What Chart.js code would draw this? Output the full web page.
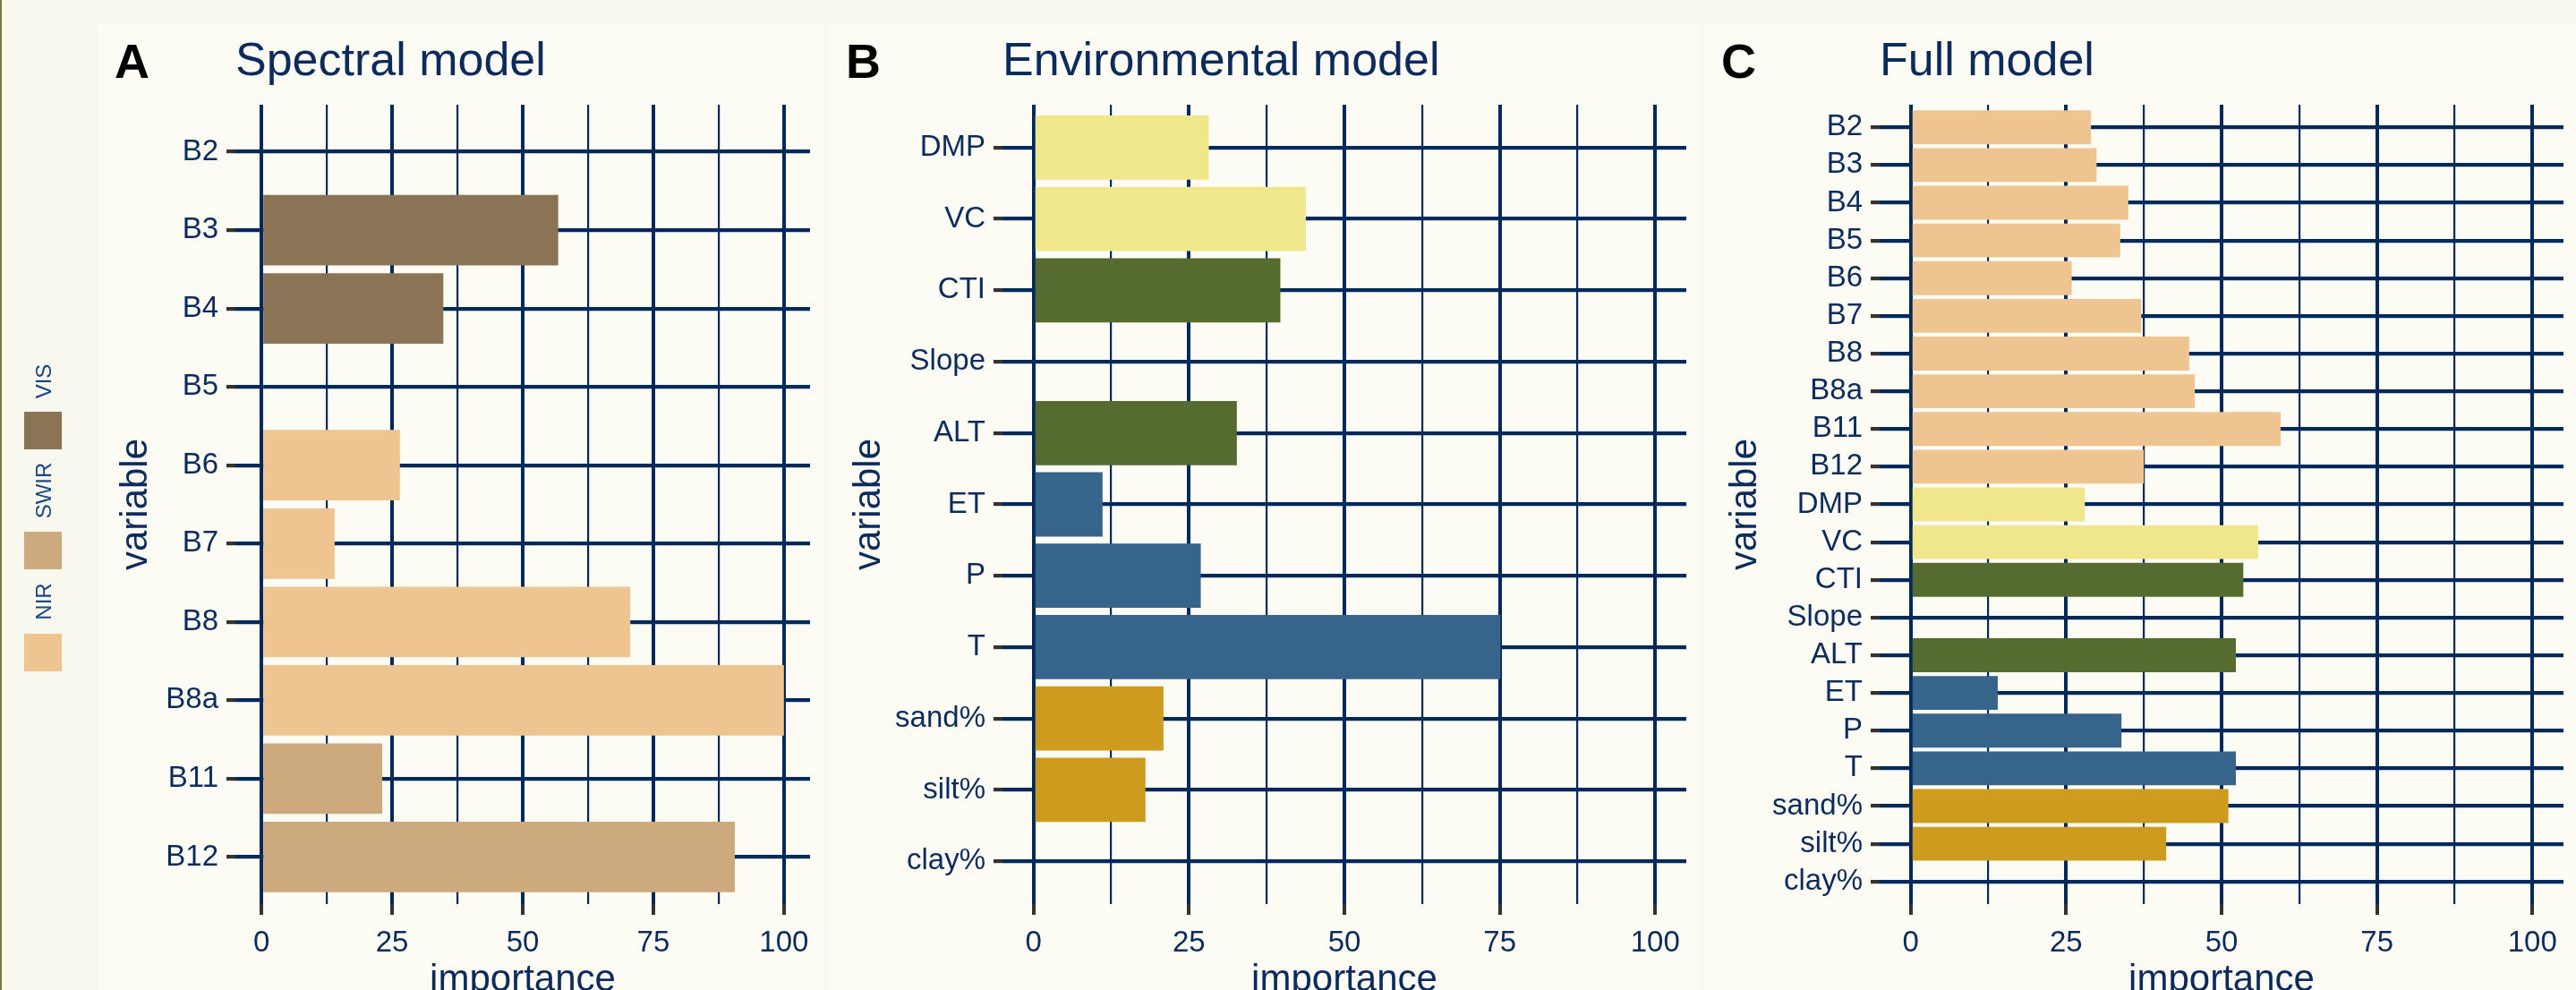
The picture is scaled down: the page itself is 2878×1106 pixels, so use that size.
<!DOCTYPE html>
<html>
<head>
<meta charset="utf-8">
<script src="https://cdn.jsdelivr.net/npm/chart.js@4.4.1/dist/chart.umd.min.js"></script>
<style>
  html, body { margin: 0; padding: 0; overflow: hidden; background: #F8F8EF; }
  body { width: 2878px; height: 1106px; position: relative; }
  .panel { position: absolute; top: 26px; height: 1080px; background: #FCFCF5; }
  canvas { position: absolute; top: 0; }
</style>
</head>
<body>
<div style="position:absolute;left:0;top:0;width:2px;height:1106px;background:#7A7A3C"></div>
<div class="panel" style="left:110px;width:810px"></div>
<div class="panel" style="left:925px;width:975px"></div>
<div class="panel" style="left:1905px;width:973px"></div>
<canvas id="chartA" width="922" height="1140" style="left:0px"></canvas>
<canvas id="chartB" width="978" height="1140" style="left:922px"></canvas>
<canvas id="chartC" width="978" height="1140" style="left:1900px"></canvas>
<script>
const FONT = "'Liberation Sans', Arial, sans-serif";
const navy = "#0A2B5C";
const gridNavy = "#00295B";
const tickGrey = "#333333";

// spectral model
const spectral_vars = ["B2", "B3", "B4", "B5", "B6", "B7", "B8", "B8a", "B11", "B12"];
const spectral_imp = [0, 56.8, 34.8, 0.3, 26.5, 14.0, 70.6, 100, 23.1, 90.6];
const spectral_band = ["VIS", "VIS", "VIS", "NIR", "NIR", "NIR", "NIR", "NIR", "SWIR", "SWIR"];

// environmental model
const env_vars = ["DMP", "VC", "CTI", "Slope", "ALT", "ET", "P", "T", "sand%", "silt%", "clay%"];
const env_imp = [28.2, 43.8, 39.7, 0, 32.7, 11.1, 26.9, 75.1, 20.9, 18.0, 0];
const env_group = ["veg", "veg", "topo", "topo", "topo", "clim", "clim", "clim", "soil", "soil", "soil"];

// full model
const full_vars = spectral_vars.concat(env_vars);
const full_imp = [29.0, 29.9, 35.0, 33.7, 25.9, 37.1, 44.8, 45.7, 59.5, 37.5,
                  28.0, 55.9, 53.5, 0, 52.3, 14.0, 33.9, 52.3, 51.1, 41.1, 0];
const full_group = spectral_vars.map(() => "NIR").concat(env_group);

const x_ticks = [0, 12.5, 25, 37.5, 50, 62.5, 75, 87.5, 100];
const legend_bands = ["VIS", "SWIR", "NIR"];

const groupColors = {
  VIS: "#8B7355",
  SWIR: "#CDAA7D",
  NIR: "#EEC591",
  veg: "#F0E68C",
  topo: "#556B2F",
  clim: "#36648B",
  soil: "#CD9B1D",
};

// panel letter + the rotated band legend of panel A
const panelTag = {
  id: "panelTag",
  afterDraw(chart, args, o) {
    const ctx = chart.ctx;
    ctx.save();
    ctx.fillStyle = "#000";
    ctx.font = "bold 54px " + FONT;
    ctx.textBaseline = "alphabetic";
    ctx.textAlign = "left";
    ctx.fillText(o.tag, o.x, 87);
    if (o.legend) {
      const boxTop = [460, 594, 708];
      const textMid = [426, 548, 672];
      o.legend.forEach((band, i) => {
        ctx.fillStyle = groupColors[band];
        ctx.fillRect(27, boxTop[i], 42, 42);
        ctx.save();
        ctx.translate(50, textMid[i]);
        ctx.rotate(-Math.PI / 2);
        ctx.fillStyle = "#1A4680";
        ctx.font = "24px " + FONT;
        ctx.textAlign = "center";
        ctx.textBaseline = "middle";
        ctx.fillText(band, 0, 0);
        ctx.restore();
      });
    }
    ctx.restore();
  },
};

function makeChart(id, o) {
  const labels = o.vars;
  return new Chart(document.getElementById(id), {
    type: "bar",
    data: {
      datasets: [{
        data: o.values.map((v, i) => ({ x: v, y: i })),
        backgroundColor: o.groups.map(g => groupColors[g]),
        barPercentage: 0.9,
        categoryPercentage: 1,
      }],
    },
    options: {
      indexAxis: "y",
      responsive: false,
      animation: false,
      layout: { padding: { left: 0, right: o.rightPad, top: 0, bottom: 0 } },
      plugins: {
        legend: { display: false },
        tooltip: { enabled: false },
        title: {
          display: true,
          text: o.title,
          align: "start",
          fullSize: false,
          color: navy,
          font: { family: FONT, size: 52, weight: "normal", lineHeight: 1.2 },
          padding: { top: 38, bottom: 16.6 },
        },
        panelTag: { tag: o.tag, x: o.tagX, legend: o.legend },
      },
      scales: {
        x: {
          type: "linear",
          min: -5,
          max: 105,
          afterBuildTicks: s => { s.ticks = x_ticks.map(v => ({ value: v })); },
          afterFit: s => { s.height = 130; },
          border: { display: false },
          grid: {
            color: gridNavy,
            lineWidth: c => (c.tick && c.tick.value % 25 === 0 ? 4 : 2.2),
            tickColor: c => (c.tick && c.tick.value % 25 === 0 ? tickGrey : "rgba(0,0,0,0)"),
            tickWidth: 4,
            tickLength: 12,
          },
          ticks: {
            color: navy,
            font: { family: FONT, size: 33 },
            padding: 12,
            maxRotation: 0,
            autoSkip: false,
            callback: v => (v % 25 === 0 ? v : ""),
          },
          title: {
            display: true,
            text: "importance",
            color: navy,
            font: { family: FONT, size: 42 },
            padding: { top: 0, bottom: 19 },
          },
        },
        y: {
          type: "linear",
          reverse: true,
          offset: false,
          min: -0.6,
          max: labels.length - 0.4,
          afterBuildTicks: s => { s.ticks = labels.map((_, i) => ({ value: i })); },
          afterFit: s => { s.width = o.left; },
          border: { display: false },
          grid: {
            offset: false,
            color: gridNavy,
            lineWidth: 4.2,
            tickColor: tickGrey,
            tickWidth: 4.2,
            tickLength: 10,
          },
          ticks: {
            color: navy,
            font: { family: FONT, size: 33 },
            padding: 9,
            autoSkip: false,
            callback: v => labels[v],
          },
          title: {
            display: true,
            text: "variable",
            color: navy,
            font: { family: FONT, size: 42 },
            padding: { top: o.varMid - 25.2, bottom: 0 },
          },
        },
      },
    },
    plugins: [panelTag],
  });
}

makeChart("chartA", {
  title: "Spectral model", tag: "A", tagX: 128,
  vars: spectral_vars, values: spectral_imp, groups: spectral_band,
  left: 263, rightPad: 17, varMid: 152, legend: legend_bands,
});
makeChart("chartB", {
  title: "Environmental model", tag: "B", tagX: 23,
  vars: env_vars, values: env_imp, groups: env_group,
  left: 198, rightPad: 16, varMid: 49,
});
makeChart("chartC", {
  title: "Full model", tag: "C", tagX: 23,
  vars: full_vars, values: full_imp, groups: full_group,
  left: 200, rightPad: 14, varMid: 50,
});
</script>
</body>
</html>
